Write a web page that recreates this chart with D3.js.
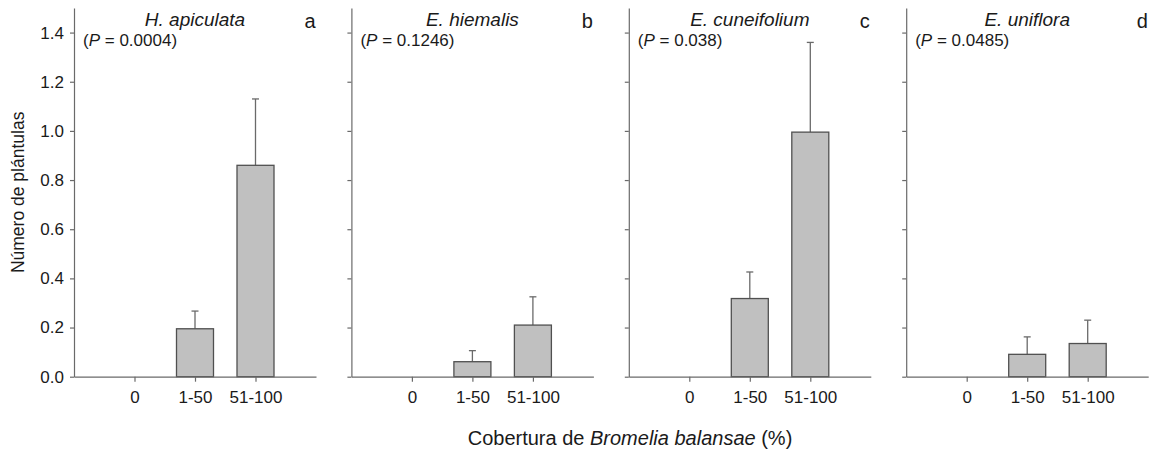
<!DOCTYPE html>
<html>
<head>
<meta charset="utf-8">
<script src="https://cdn.jsdelivr.net/npm/d3@7"></script>
<style>
  body { margin: 0; background: #fff; }
  svg { font-family: "Liberation Sans", Arial, sans-serif; }
  .axis path, .axis line { stroke: #6a6a6a; stroke-width: 1.2; }
  .axis text { fill: #1a1a1a; font-size: 17px; }
</style>
</head>
<body>
<div id="chart"></div>
<script>
// data
const categories = ["0", "1-50", "51-100"];
const species = ["H. apiculata", "E. hiemalis", "E. cuneifolium", "E. uniflora"];
const panelLetters = ["a", "b", "c", "d"];
const pValues = ["0.0004", "0.1246", "0.038", "0.0485"];
const yTicks = [0, 0.2, 0.4, 0.6, 0.8, 1.0, 1.2, 1.4];

// mean number of seedlings per cover class, one array per species
const meanApiculata = [0, 0.195, 0.86];
const meanHiemalis = [0, 0.061, 0.21];
const meanCuneifolium = [0, 0.318, 0.995];
const meanUniflora = [0, 0.091, 0.135];

// standard error (upper whisker length)
const seApiculata = [0, 0.072, 0.27];
const seHiemalis = [0, 0.045, 0.115];
const seCuneifolium = [0, 0.108, 0.365];
const seUniflora = [0, 0.071, 0.095];

const means = [meanApiculata, meanHiemalis, meanCuneifolium, meanUniflora];
const ses = [seApiculata, seHiemalis, seCuneifolium, seUniflora];

const W = 1153, H = 453;
const panelW = 242, panelStep = 277.4;
const left0 = 74, plotTop = 8, plotBottom = 376.7;

const svg = d3.select("#chart").append("svg")
  .attr("width", W)
  .attr("height", H);

const y = d3.scaleLinear()
  .domain([0, 1.5])
  .range([plotBottom, plotTop]);

const x = d3.scalePoint()
  .domain(categories)
  .range([0, panelW])
  .padding(1);

const barW = 37;

species.forEach((name, i) => {
  let g = svg.append("g")
    .attr("transform", `translate(${left0 + i * panelStep},0)`);

  let rows = categories.map((c, j) => ({ cat: c, mean: means[i][j], se: ses[i][j] }))
    .filter(d => d.mean > 0);

  // error bars (upper only)
  g.selectAll(".err")
    .data(rows)
    .enter().append("line")
    .attr("class", "err")
    .attr("x1", d => x(d.cat))
    .attr("x2", d => x(d.cat))
    .attr("y1", d => y(d.mean))
    .attr("y2", d => y(d.mean + d.se))
    .attr("stroke", "#6a6a6a")
    .attr("stroke-width", 1.3);
  g.selectAll(".cap")
    .data(rows)
    .enter().append("line")
    .attr("class", "cap")
    .attr("x1", d => x(d.cat) - 3.5)
    .attr("x2", d => x(d.cat) + 3.5)
    .attr("y1", d => y(d.mean + d.se))
    .attr("y2", d => y(d.mean + d.se))
    .attr("stroke", "#6a6a6a")
    .attr("stroke-width", 1.3);

  // bars
  g.selectAll(".bar")
    .data(rows)
    .enter().append("rect")
    .attr("class", "bar")
    .attr("x", d => x(d.cat) - barW / 2)
    .attr("y", d => y(d.mean))
    .attr("width", barW)
    .attr("height", d => y(0) - y(d.mean))
    .attr("fill", "#c0c0c0")
    .attr("stroke", "#505050")
    .attr("stroke-width", 1.3);

  // axes
  let yAxis = d3.axisLeft(y)
    .tickValues(yTicks)
    .tickSize(4)
    .tickSizeOuter(0)
    .tickPadding(6)
    .tickFormat(i === 0 ? d3.format(".1f") : "");
  g.append("g")
    .attr("class", "axis")
    .call(yAxis);

  let xAxis = d3.axisBottom(x)
    .tickSize(5)
    .tickSizeOuter(0)
    .tickPadding(9);
  g.append("g")
    .attr("class", "axis")
    .attr("transform", `translate(0,${plotBottom})`)
    .call(xAxis);

  // species name, P value and panel letter
  g.append("text")
    .attr("x", x(categories[1]))
    .attr("y", 26)
    .attr("text-anchor", "middle")
    .attr("font-style", "italic")
    .attr("font-size", 19)
    .attr("fill", "#1a1a1a")
    .text(name);

  let p = g.append("text")
    .attr("x", 9)
    .attr("y", 46)
    .attr("font-size", 17)
    .attr("fill", "#1a1a1a");
  p.append("tspan").text("(");
  p.append("tspan").attr("font-style", "italic").text("P");
  p.append("tspan").text(` = ${pValues[i]})`);

  g.append("text")
    .attr("x", panelW - 6)
    .attr("y", 28)
    .attr("text-anchor", "middle")
    .attr("font-size", 20)
    .attr("fill", "#1a1a1a")
    .text(panelLetters[i]);
});

// axis titles
svg.append("text")
  .attr("transform", `translate(24,${(plotTop + plotBottom) / 2}) rotate(-90)`)
  .attr("text-anchor", "middle")
  .attr("font-size", 17.5)
  .attr("fill", "#1a1a1a")
  .text("Número de plántulas");

let xt = svg.append("text")
  .attr("x", 630)
  .attr("y", 445)
  .attr("text-anchor", "middle")
  .attr("font-size", 20)
  .attr("fill", "#1a1a1a");
xt.append("tspan").text("Cobertura de ");
xt.append("tspan").attr("font-style", "italic").text("Bromelia balansae");
xt.append("tspan").text(" (%)");
</script>
</body>
</html>
